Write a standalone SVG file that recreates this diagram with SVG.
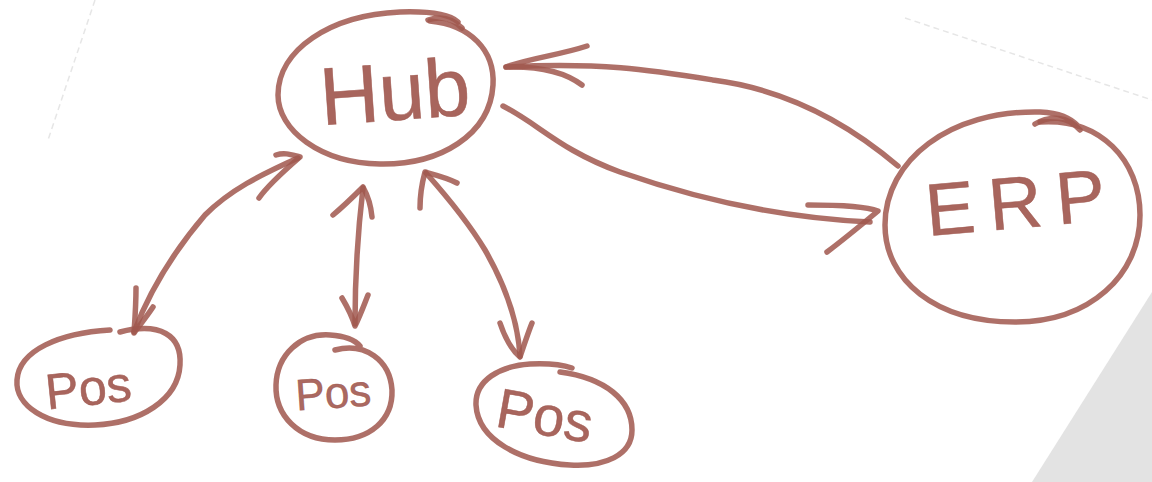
<svg xmlns="http://www.w3.org/2000/svg" width="1152" height="482" viewBox="0 0 1152 482">
<style>
.s{fill:none;stroke:#a0574e;stroke-width:5.5;stroke-linecap:round;stroke-linejoin:round;stroke-opacity:0.85}
.t{font-family:"Liberation Sans",Arial,sans-serif;fill:#9e544b;fill-opacity:0.9;stroke:#9e544b;stroke-width:0.6;stroke-opacity:0.8}
.f{fill:none;stroke:#e6e6e6;stroke-width:1.5;stroke-dasharray:6 4}
</style>
<rect width="1152" height="482" fill="#ffffff"/>
<polygon points="1152,292 1152,482 1032,482" fill="#e3e3e3"/>
<path class="f" d="M 95 0 L 48 140"/>
<path class="f" d="M 905 18 L 1152 100"/>
<g id="connectors">
  <!-- ERP -> Hub (top) -->
  <path class="s" d="M 898 166 C 850 125, 790 90, 713 80 C 650 70, 600 62, 506 67"/>
  <path class="s" d="M 587 46 C 560 55, 530 58, 506 67 C 540 66, 565 72, 582 85"/>
  <!-- Hub -> ERP (bottom) -->
  <path class="s" d="M 503 106 C 540 125, 560 150, 620 172 C 700 200, 780 218, 870 222"/>
  <path class="s" d="M 808 205 C 840 205, 865 206, 878 211 C 860 226, 843 240, 827 252"/>
  <!-- Hub <-> POS1 -->
  <path class="s" d="M 298 158 C 260 175, 230 190, 205 215 C 175 250, 150 290, 134 332"/>
  <path class="s" d="M 276 155 C 285 152, 292 155, 300 157 C 285 170, 268 185, 259 198"/>
  <path class="s" d="M 136 288 C 136 305, 135 318, 134 333 C 140 325, 147 316, 153 307"/>
  <!-- Hub <-> POS2 -->
  <path class="s" d="M 363 188 C 358 230, 355 280, 355 324"/>
  <path class="s" d="M 333 215 C 345 205, 355 195, 363 187 C 368 196, 371 206, 372 217"/>
  <path class="s" d="M 342 298 C 348 308, 352 316, 355 326 C 360 316, 364 305, 368 295"/>
  <!-- Hub <-> POS3 -->
  <path class="s" d="M 426 173 C 450 200, 470 225, 485 250 C 505 285, 518 320, 520 356"/>
  <path class="s" d="M 420 208 C 420 195, 422 183, 425 172 C 436 175, 448 178, 457 183"/>
  <path class="s" d="M 500 323 C 505 338, 512 350, 520 357 C 524 345, 528 333, 532 323"/>
</g>
<g id="hub">
  <path class="s" d="M 430 21 C 470 25, 495 50, 493 85 C 490 135, 440 165, 380 164 C 320 163, 278 130, 278 95 C 278 50, 330 15, 400 12 C 430 11, 450 15, 458 22"/>
  <path class="s" d="M 428 20 C 440 16, 452 18, 462 28"/>
  <text class="t" x="395" y="120" font-size="82" text-anchor="middle" transform="rotate(-4 395 95)">Hub</text>
</g>
<g id="erp">
  <path class="s" d="M 1040 122 C 1100 118, 1140 160, 1140 215 C 1140 275, 1090 322, 1015 322 C 935 322, 885 280, 885 225 C 885 160, 950 110, 1040 112 C 1060 113, 1070 118, 1078 126"/>
  <path class="s" d="M 1035 124 C 1050 115, 1068 116, 1080 130"/>
  <text class="t" x="1022" y="228" font-size="74" text-anchor="middle" letter-spacing="14" transform="rotate(-5 1018 200)">ERP</text>
</g>
<g id="pos1">
  <path class="s" d="M 120 332 C 160 322, 182 335, 180 365 C 178 400, 140 423, 95 425 C 45 427, 15 405, 17 380 C 19 350, 60 333, 110 330"/>
  <text class="t" x="88" y="405" font-size="50" text-anchor="middle" transform="rotate(-6 88 385)">Pos</text>
</g>
<g id="pos2">
  <path class="s" d="M 335 350 C 365 342, 390 360, 392 390 C 393 420, 370 440, 335 440 C 298 440, 275 415, 276 385 C 277 355, 300 333, 330 335 C 345 336, 355 340, 360 346"/>
  <text class="t" x="333" y="408" font-size="44" text-anchor="middle" transform="rotate(-4 333 390)">Pos</text>
</g>
<g id="pos3">
  <path class="s" d="M 560 372 C 605 378, 632 400, 632 430 C 632 455, 605 467, 570 465 C 520 462, 478 440, 476 405 C 475 380, 500 366, 530 364 C 550 363, 563 365, 572 368"/>
  <text class="t" x="545" y="435" font-size="56" text-anchor="middle" transform="rotate(10 545 415)">Pos</text>
</g>
</svg>
